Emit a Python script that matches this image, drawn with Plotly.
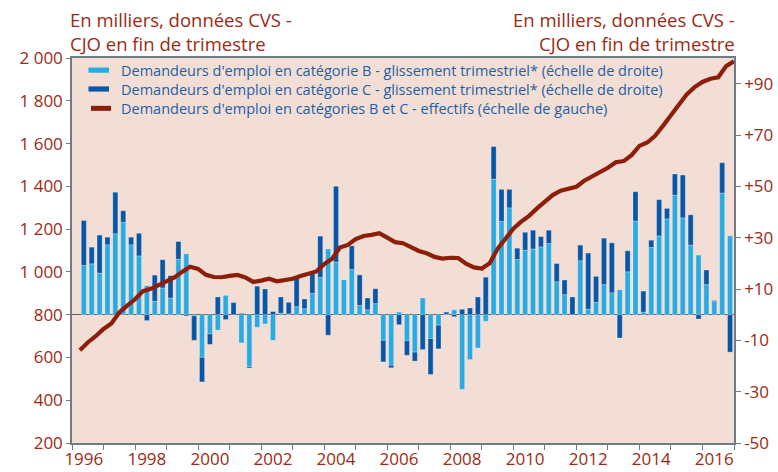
import plotly.graph_objects as go

# ---------------- data ----------------
first_year = 1996
last_year = 2017

# quarterly growth (right scale), bars from 1996 Q2 to 2016 Q4
cat_b = [19.2, 19.8, 16.2, 27.2, 31.5, 36.0, 27.2, 22.9, 11.3, 5.2,
         10.4, 6.5, 21.6, 23.7, -0.5, -16.6, -7.5, -6.0, 7.5, 0.0,
         -11.0, -20.3, -4.9, -3.6, -10.0, 0.6, 0.3, 3.1, 2.3, 8.3,
         14.5, 25.6, 20.5, 13.7, 17.6, 3.6, 1.9, 4.3, -10.0, -19.7,
         1.0, -10.1, -14.6, 6.5, -9.3, -4.1, 0.2, 1.9, -29.1, -17.5,
         -13.0, -2.6, 52.8, 36.3, 41.6, 21.5, 25.1, 25.6, 26.4, 27.7,
         12.8, 7.8, 0.0, 21.0, 2.2, 4.8, 11.7, 8.5, 9.7, 16.7,
         36.5, 1.0, 26.2, 30.7, 37.3, 46.6, 37.7, 27.1, 23.2, 11.7,
         5.1, 47.4, 30.7]
cat_c = [17.5, 6.5, 14.8, 3.0, 16.2, 4.5, 3.0, 8.8, -2.3, 10.2,
         11.0, 8.7, 6.9, -0.5, -9.5, -9.6, -4.1, 6.9, -1.9, 4.7,
         0.5, -0.5, 11.1, 10.0, 1.2, 6.3, 4.5, 11.4, 3.8, 7.8,
         16.1, -8.0, 29.5, 0.0, 9.2, 11.9, 4.6, 5.8, -8.4, -1.0,
         -3.9, -5.7, -3.5, -13.6, -14.0, -9.2, 0.8, -0.8, 2.1, 2.6,
         6.9, 14.6, 12.7, 12.5, 7.2, 4.4, 7.0, 7.3, 4.0, 5.2,
         7.1, 5.7, 6.9, 6.1, 21.8, 10.1, 18.1, 19.5, -9.1, 8.2,
         11.4, 8.2, 2.8, 14.1, 4.1, 8.2, 16.7, 11.8, -1.7, 5.7,
         0.4, 11.8, -14.6]

# stock of job seekers B + C (left scale), end of quarter, 1996 Q1 .. 2016 Q4
stock_bc = [634, 670, 699, 733, 759, 810, 842, 872, 910, 921,
            938, 957, 974, 1001, 1024, 1014, 986, 976, 975, 981,
            986, 974, 953, 959, 968, 956, 962, 968, 981, 993,
            1002, 1036, 1061, 1114, 1126, 1153, 1168, 1173, 1181, 1160,
            1139, 1134, 1114, 1098, 1087, 1070, 1062, 1066, 1065, 1038,
            1021, 1016, 1040, 1108, 1155, 1202, 1235, 1262, 1297, 1328,
            1359, 1380, 1387, 1398, 1426, 1445, 1468, 1487, 1513, 1518,
            1546, 1589, 1605, 1636, 1683, 1729, 1782, 1830, 1864, 1888,
            1903, 1910, 1962, 1984]

year_labels = ["1996", "1998", "2000", "2002", "2004", "2006",
               "2008", "2010", "2012", "2014", "2016"]
left_ticks = [200, 400, 600, 800, 1000, 1200, 1400, 1600, 1800, 2000]
right_ticks = [-50, -30, -10, 10, 30, 50, 70, 90]
right_ticktext = ["-50", "-30", "-10", "+10", "+30", "+50", "+70", "+90"]

legend_names = [
    "Demandeurs d'emploi en catégorie B - glissement trimestriel* (échelle de droite)",
    "Demandeurs d'emploi en catégorie C - glissement trimestriel* (échelle de droite)",
    "Demandeurs d'emploi en catégories B et C - effectifs (échelle de gauche)",
]
title_lines = ["En milliers, données CVS -", "CJO en fin de trimestre"]

# ---------------- positions (quarters -> decimal years) ----------------
bar_x = [first_year + (i + 1.5) / 4 for i in range(len(cat_b))]
line_x = [first_year + (k + 1) / 4 for k in range(len(stock_bc))]
label_x = [int(y) + 0.375 for y in year_labels]

# ---------------- style ----------------
FONT = "Open Sans"
TEXT_RED = "#9c2a12"
LEGEND_BLUE = "#1f5fa6"
LIGHT_BLUE = "#29abe2"
DARK_BLUE = "#0757a6"
LINE_RED = "#8e1e0a"
BG = "#f2ded5"
GREY = "#6e7c86"

W, H = 778, 472
ML, MR, MT, MB = 72, 44, 58, 29
PW, PH = W - ML - MR, H - MT - MB


def px_x(px):
    return (px - ML) / PW


def px_y(py):
    return (H - MB - py) / PH


fig = go.Figure()

edge = dict(width=0.6, color="rgba(255,255,255,0.45)")
fig.add_trace(go.Bar(x=bar_x, y=cat_b, width=0.16, marker=dict(color=LIGHT_BLUE, line=edge),
                     showlegend=False, xaxis="x", yaxis="y", name=legend_names[0]))
fig.add_trace(go.Bar(x=bar_x, y=cat_c, width=0.16, marker=dict(color=DARK_BLUE, line=edge),
                     showlegend=False, xaxis="x", yaxis="y", name=legend_names[1]))
fig.add_trace(go.Scatter(x=line_x, y=stock_bc, mode="lines", name=legend_names[2],
                         line=dict(color=LINE_RED, width=4.2), showlegend=False,
                         xaxis="x2", yaxis="y2"))

# ---- legend drawn as keys + one block of text (compact original layout)
LEG_FS = 14.5
row_gap = 1.3 * LEG_FS
leg_centre = 89
row_centres = [leg_centre - row_gap, leg_centre, leg_centre + row_gap]
shapes = [
    dict(type="rect", xref="paper", yref="paper", x0=px_x(88.5), x1=px_x(109),
         y0=px_y(row_centres[0] - 2.6), y1=px_y(row_centres[0] + 2.6),
         fillcolor=LIGHT_BLUE, line=dict(width=0)),
    dict(type="rect", xref="paper", yref="paper", x0=px_x(88.5), x1=px_x(109),
         y0=px_y(row_centres[1] - 2.6), y1=px_y(row_centres[1] + 2.6),
         fillcolor=DARK_BLUE, line=dict(width=0)),
    dict(type="line", xref="paper", yref="paper", x0=px_x(91), x1=px_x(111),
         y0=px_y(row_centres[2] + 0.5), y1=px_y(row_centres[2] + 0.5),
         line=dict(color=LINE_RED, width=5)),
]
annotations = [
    dict(text="<br>".join(legend_names), xref="paper", yref="paper",
         x=px_x(119), y=px_y(leg_centre), xanchor="left", yanchor="middle", align="left",
         showarrow=False, font=dict(size=LEG_FS, color=LEGEND_BLUE, family=FONT)),
]

# ---- unit notes above both axes
title_text = "<br>".join(title_lines)
annotations.append(dict(text=title_text, xref="paper", yref="paper", x=px_x(68), y=px_y(32),
                        xanchor="left", yanchor="middle", align="left", showarrow=False,
                        font=dict(size=18.5, color=TEXT_RED, family=FONT)))
annotations.append(dict(text=title_text, xref="paper", yref="paper", x=px_x(737), y=px_y(32),
                        xanchor="right", yanchor="middle", align="right", showarrow=False,
                        font=dict(size=18.5, color=TEXT_RED, family=FONT)))

fig.update_layout(
    width=W, height=H,
    margin=dict(l=ML, r=MR, t=MT, b=MB),
    paper_bgcolor="white", plot_bgcolor=BG,
    barmode="relative",
    separators=", ",
    font=dict(family=FONT, color=TEXT_RED, size=17),
    showlegend=False,
    xaxis=dict(range=[first_year, last_year], tickvals=list(range(first_year, last_year + 1)),
               showticklabels=False, ticks="outside", ticklen=5, tickcolor=GREY,
               showline=True, linecolor=GREY, linewidth=1.5, mirror=True,
               showgrid=False, zeroline=False, automargin=False),
    xaxis2=dict(range=[first_year, last_year], overlaying="x", anchor="y2", side="bottom",
                tickvals=label_x, ticktext=year_labels, ticks="", showline=False,
                showgrid=False, zeroline=False, ticklabelstandoff=4, automargin=False,
                tickfont=dict(size=17, color=TEXT_RED)),
    yaxis=dict(range=[-50, 100], side="right", tickvals=right_ticks, ticktext=right_ticktext,
               ticks="outside", ticklen=5, tickcolor=GREY, showline=True, linecolor=GREY,
               linewidth=1.5, showgrid=False, zeroline=True, zerolinecolor="#55626b",
               zerolinewidth=1.2, automargin=False, tickfont=dict(size=17, color=TEXT_RED)),
    yaxis2=dict(range=[200, 2000], side="left", overlaying="y", anchor="x2",
                tickvals=left_ticks, tickformat=",.0f", ticks="outside", ticklen=4,
                tickcolor=GREY, showline=True, linecolor=GREY, linewidth=1.5,
                showgrid=False, zeroline=False, automargin=False,
                tickfont=dict(size=17, color=TEXT_RED)),
    shapes=shapes,
    annotations=annotations,
)

fig.write_html("out.html",
               config={"displayModeBar": False},
               post_script="document.body.style.margin='0px';"
                           "document.body.style.overflow='hidden';")
